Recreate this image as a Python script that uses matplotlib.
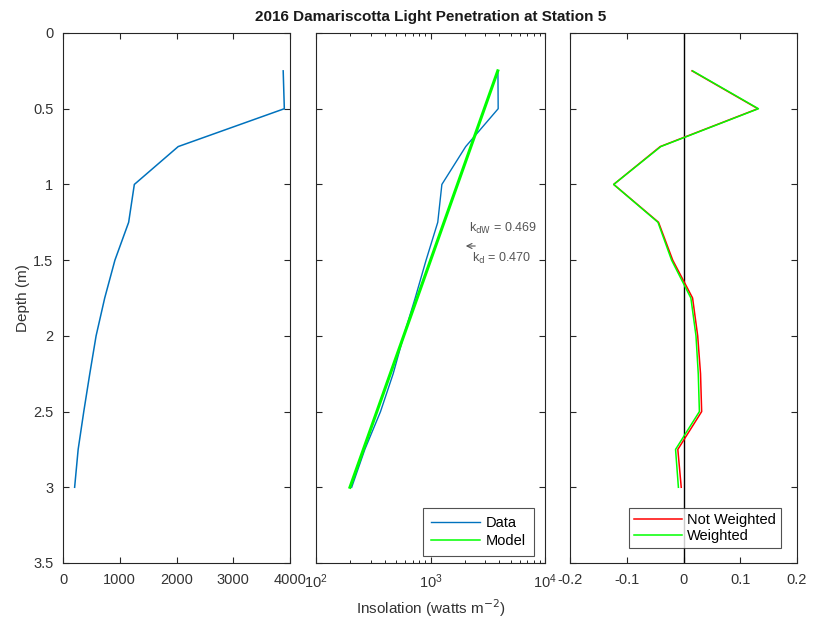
import matplotlib
matplotlib.use("Agg")
import matplotlib.pyplot as plt
from matplotlib.ticker import FixedLocator, NullFormatter, LogLocator

plt.rcParams['font.family'] = ['Liberation Sans', 'DejaVu Sans']

# ---- data ----
depth = [0.25, 0.5, 0.75, 1.0, 1.25, 1.5, 1.75, 2.0, 2.25, 2.5, 2.75, 3.0]
insolation = [3880, 3900, 2030, 1257, 1157, 915, 735, 583, 472, 366, 267, 205]
model_depth = [0.25, 3.0]
model_insolation = [3870, 198]
resid_not_weighted = [0.015, 0.131, -0.041, -0.123, -0.044, -0.019, 0.016, 0.025, 0.030, 0.032, -0.010, -0.004]
resid_weighted = [0.016, 0.132, -0.040, -0.123, -0.045, -0.021, 0.013, 0.022, 0.026, 0.028, -0.014, -0.009]
k_dW = 0.469
k_d = 0.470

W, H = 814, 621
fig = plt.figure(figsize=(W / 100, H / 100), dpi=100)

def ax_rect(l, r, t, b):
    return [l / W, 1 - b / H, (r - l) / W, (b - t) / H]

top, bot = 33, 563
ax1 = fig.add_axes(ax_rect(63, 290, top, bot))
ax2 = fig.add_axes(ax_rect(316, 545, top, bot))
ax3 = fig.add_axes(ax_rect(570, 797, top, bot))

blue = (0, 0.447, 0.741)
fs = 10.5
tc = '#333333'

for ax in (ax1, ax2, ax3):
    ax.set_ylim(3.5, 0)
    ax.yaxis.set_major_locator(FixedLocator([0, 0.5, 1, 1.5, 2, 2.5, 3, 3.5]))
    ax.tick_params(direction='in', top=True, right=True, labelsize=fs, length=4,
                   width=0.8, colors='#262626', labelcolor=tc, pad=7)
    ax.tick_params(which='minor', direction='in', top=True, right=True, length=2.5, width=0.6)
    for s in ax.spines.values():
        s.set_color('#262626')
        s.set_linewidth(0.8)

# panel 1
ax1.plot(insolation, depth, color=blue, lw=1.1)
ax1.set_xlim(0, 4000)
ax1.xaxis.set_major_locator(FixedLocator([0, 1000, 2000, 3000, 4000]))
ax1.set_yticklabels(['0', '0.5', '1', '1.5', '2', '2.5', '3', '3.5'])
ax1.set_ylabel('Depth (m)', fontsize=11, color=tc, labelpad=2)

# panel 2
ax2.plot(insolation, depth, color=blue, lw=1.0, label='Data')
ax2.plot(model_insolation, model_depth, color=(0, 1, 0), lw=2.2, label='Model')
ax2.set_xscale('log')
ax2.set_xlim(1e2, 1e4)
ax2.xaxis.set_major_locator(LogLocator(base=10, numticks=5))
ax2.xaxis.set_minor_locator(LogLocator(base=10, subs=range(2, 10), numticks=20))
ax2.xaxis.set_minor_formatter(NullFormatter())
ax2.yaxis.set_major_formatter(NullFormatter())
ax2.set_xlabel('Insolation (watts m$^{-2}$)', fontsize=11, color=tc, labelpad=4)
leg2 = ax2.legend(loc='lower right', bbox_to_anchor=(0.985, 0.0), fontsize=10.5,
                  frameon=True, fancybox=False, edgecolor='#262626',
                  handlelength=3.4, borderpad=0.55, labelspacing=0.25, handletextpad=0.4)
leg2.get_frame().set_linewidth(0.8)
leg2.get_lines()[1].set_linewidth(1.1)

# panel 3
ax3.axvline(0, color='black', lw=1.0)
ax3.plot(resid_not_weighted, depth, color=(1, 0, 0), lw=1.1, label='Not Weighted')
ax3.plot(resid_weighted, depth, color=(0, 1, 0), lw=1.1, label='Weighted')
ax3.set_xlim(-0.2, 0.2)
ax3.xaxis.set_major_locator(FixedLocator([-0.2, -0.1, 0, 0.1, 0.2]))
ax3.set_xticklabels(['-0.2', '-0.1', '0', '0.1', '0.2'])
ax3.yaxis.set_major_formatter(NullFormatter())
leg3 = ax3.legend(loc='lower right', bbox_to_anchor=(0.96, 0.014), fontsize=10.5,
                  frameon=True, fancybox=False, edgecolor='#262626',
                  handlelength=3.3, borderpad=0.35, labelspacing=0.15, handletextpad=0.3)
leg3.get_frame().set_linewidth(0.8)

# title
fig.text(431 / W, 1 - 17 / H, '2016 Damariscotta Light Penetration at Station 5',
         ha='center', va='center', fontsize=11, fontweight='bold', color='#1a1a1a')

# annotation
gray = '#555555'
fig.text(469 / W, 1 - 228 / H, r'k$_{\rm dW}$ = %.3f' % k_dW, fontsize=9, color=gray,
         ha='left', va='center')
fig.text(472 / W, 1 - 258 / H, r'k$_{\rm d}$ = %.3f' % k_d, fontsize=9, color=gray,
         ha='left', va='center')
fig.patches.append(matplotlib.patches.FancyArrowPatch(
    (478 / W, 1 - 246 / H), (463 / W, 1 - 246 / H), transform=fig.transFigure,
    arrowstyle='->', mutation_scale=9, color=gray, lw=0.8))

fig.savefig('out.png', dpi=100)
